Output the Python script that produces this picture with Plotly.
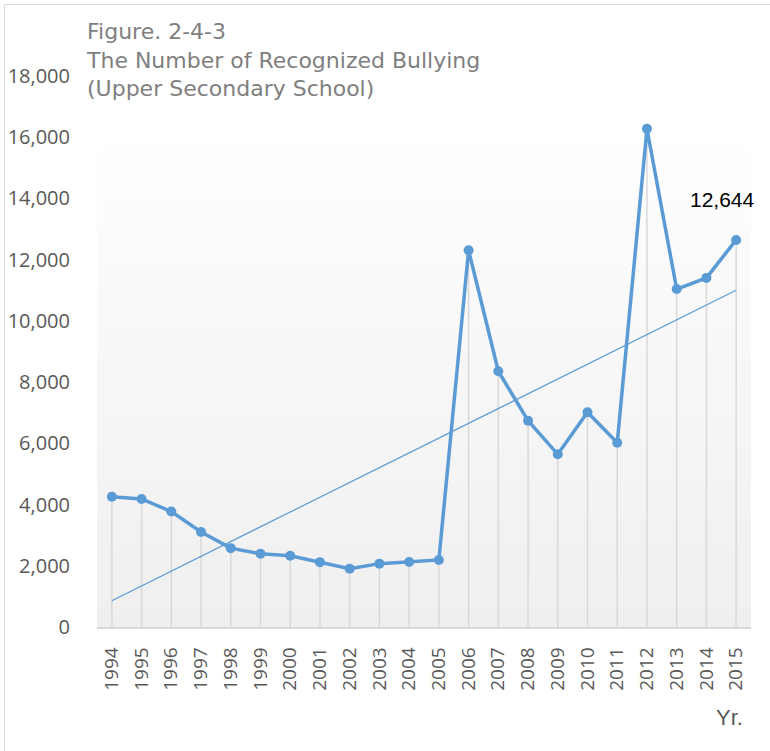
import numpy as np
import plotly.graph_objects as go

# ---- data ----
years = [str(y) for y in range(1994, 2016)]
bullying = [4253, 4184, 3771, 3103, 2576, 2391, 2327, 2119, 1906, 2070, 2121,
            2191, 12307, 8355, 6737, 5642, 7018, 6020, 16274, 11039, 11404, 12644]
y_ticks = list(range(0, 18001, 2000))
title_lines = ["Figure. 2-4-3", "The Number of Recognized Bullying", "(Upper Secondary School)"]
last_label = "12,644"

# ---- layout geometry (body margin removed via post_script) ----
W, H = 770, 751
ML, MR, MT, MB = 97, 19, 76, 124
PW, PH = W - ML - MR, H - MT - MB

def px2paper_x(px):
    return (px - ML) / PW

def px2paper_y(py):
    return (H - MB - py) / PH

BLUE = "#5b9bd5"
GRAY_TXT = "#595959"

pos = list(range(len(years)))  # category positions

# linear trend (as Excel trendline) computed from the series
slope, intercept = np.polyfit(pos, bullying, 1)
trend = [slope * i + intercept for i in pos]

fig = go.Figure()

# drop lines (gray) behind the series
fig.add_trace(go.Scatter(
    x=pos, y=bullying, mode="markers",
    marker=dict(size=1, color="rgba(0,0,0,0)"),
    error_y=dict(type="data", symmetric=False, array=[0] * len(bullying),
                 arrayminus=bullying, color="#d9d9d9", thickness=1.5, width=0),
    hoverinfo="skip", showlegend=False,
))

# trendline
fig.add_trace(go.Scatter(
    x=pos, y=trend, mode="lines",
    line=dict(color=BLUE, width=1.2), hoverinfo="skip", showlegend=False,
))

# main series
fig.add_trace(go.Scatter(
    x=pos, y=bullying, mode="lines+markers",
    line=dict(color=BLUE, width=3.5),
    marker=dict(color=BLUE, size=10),
    showlegend=False,
))

shapes = []
# gradient background for plot area (bands)
g_top = px2paper_y(147)
n = 60
c0 = np.array([254, 254, 254])
c1 = np.array([239, 239, 239])
for i in range(n):
    f0 = i / n
    f1 = (i + 1) / n
    t = (i + 0.5) / n
    c = (c0 + (c1 - c0) * t).round().astype(int)
    shapes.append(dict(
        type="rect", xref="x domain", yref="y domain",
        x0=0, x1=1, y0=g_top * (1 - f1), y1=g_top * (1 - f0),
        fillcolor=f"rgb({c[0]},{c[1]},{c[2]})", line=dict(width=0), layer="below",
    ))
# outer chart border
shapes.append(dict(
    type="rect", xref="paper", yref="paper",
    x0=px2paper_x(4.5), x1=px2paper_x(800), y0=px2paper_y(800), y1=px2paper_y(4.5),
    line=dict(color="#d9d9d9", width=1), fillcolor="rgba(0,0,0,0)", layer="below",
))

annotations = [
    dict(text="<br>".join(title_lines), xref="paper", yref="paper",
         x=px2paper_x(84), y=px2paper_y(17), xanchor="left", yanchor="top",
         align="left", showarrow=False,
         font=dict(family="DejaVu Sans", size=22, color="#7f7f7f")),
    dict(text=last_label, x=pos[-1], y=bullying[-1], xref="x", yref="y",
         showarrow=False, yshift=40, xshift=-14,
         font=dict(family="Liberation Sans, Arial", size=21, color="#000000")),
    dict(text="Yr.", xref="paper", yref="paper",
         x=px2paper_x(745), y=px2paper_y(717), xanchor="right", yanchor="middle",
         showarrow=False,
         font=dict(family="Liberation Sans, Arial", size=22, color=GRAY_TXT)),
]

fig.update_layout(
    width=W, height=H,
    margin=dict(l=ML, r=MR, t=MT, b=MB, pad=0, autoexpand=False),
    paper_bgcolor="white", plot_bgcolor="rgba(0,0,0,0)",
    shapes=shapes, annotations=annotations,
    showlegend=False,
    xaxis=dict(range=[-0.5, len(years) - 0.5], tickvals=pos, ticktext=years,
               tickangle=-90, showgrid=False, zeroline=False, automargin=False,
               showline=True, linecolor="#d9d9d9", linewidth=1.5, ticks="",
               ticklabelstandoff=11,
               tickfont=dict(family="Open Sans", size=19, color=GRAY_TXT)),
    yaxis=dict(range=[0, 18000], tickvals=y_ticks, tickformat=",", automargin=False,
               showgrid=False, zeroline=False, showline=False, ticks="",
               ticklabelstandoff=26,
               tickfont=dict(family="Open Sans", size=20, color=GRAY_TXT)),
)

fig.write_html(
    "out.html",
    config={"displayModeBar": False},
    post_script="document.body.style.margin='0px';document.body.style.overflow='hidden';",
)
